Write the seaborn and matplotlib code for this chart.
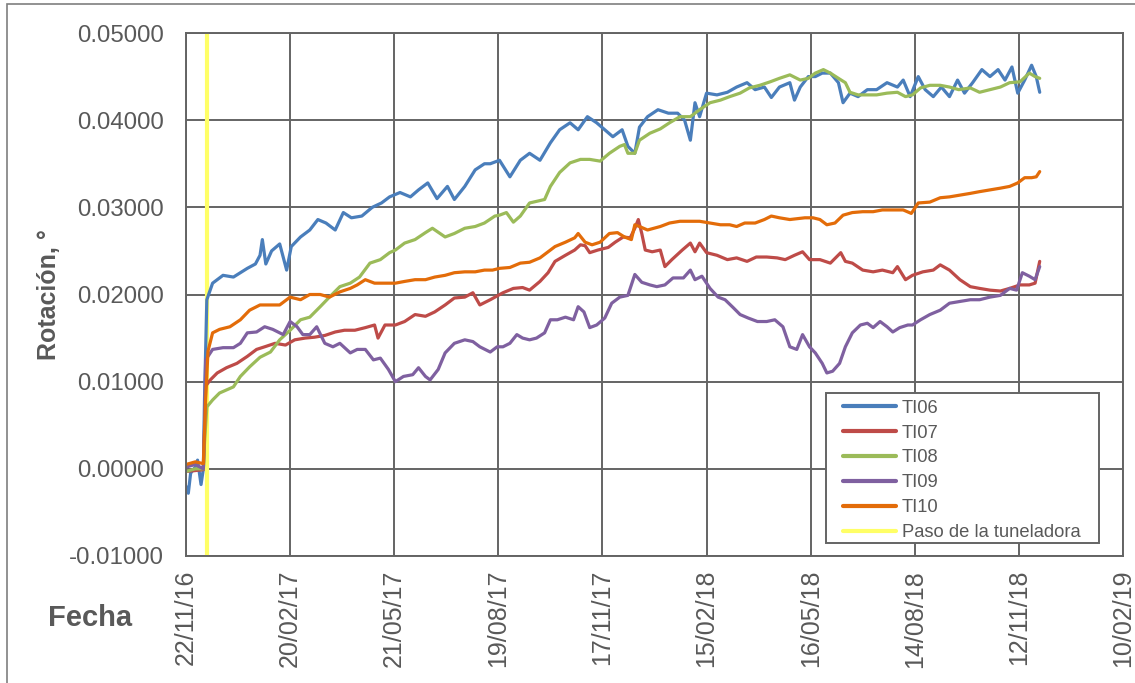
import numpy as np
import pandas as pd
import matplotlib
matplotlib.use("Agg")
import matplotlib.pyplot as plt
from matplotlib.patches import Rectangle
from matplotlib.lines import Line2D
import seaborn as sns

# ---------------- data ----------------
fecha_inicio = "2016-11-22"
fecha_paso = "2016-12-10"          # Paso de la tuneladora
series = ["TI06", "TI07", "TI08", "TI09", "TI10"]
colores = ["#4A7EBB", "#BE4B48", "#9BBB59", "#7F60A0", "#E36C09"]

xtick_fechas = ["2016-11-22", "2017-02-20", "2017-05-21", "2017-08-19", "2017-11-17",
                "2018-02-15", "2018-05-16", "2018-08-14", "2018-11-12", "2019-02-10"]
xtick_labels = ["22/11/16", "20/02/17", "21/05/17", "19/08/17", "17/11/17",
                "15/02/18", "16/05/18", "14/08/18", "12/11/18", "10/02/19"]
ytick_vals = [-0.01, 0.0, 0.01, 0.02, 0.03, 0.04, 0.05]
ytick_labels = ["-0.01000", "0.00000", "0.01000", "0.02000", "0.03000", "0.04000", "0.05000"]

# days since fecha_inicio
dias_TI06 = [0,2,4,8,10,13,15,16,18,23,32,41,53,60,64,66,69,74,81,87,91,99,107,114,121,129,136,143,152,161,
             169,176,185,194,201,209,217,226,232,241,250,258,263,271,280,289,297,306,315,323,332,339,347,355,362,
             369,377,382,388,392,399,408,417,425,431,436,440,444,450,459,468,476,485,492,500,506,513,522,526,531,
             538,544,550,557,564,568,574,581,589,597,606,615,620,626,633,639,646,653,660,667,673,680,688,695,702,
             708,714,719,725,731,735,738]
TI06 = [-0.0020,-0.0028,-0.0005,0.0002,0.0010,-0.0018,0.0000,0.0080,0.0194,0.0213,0.0222,0.0220,0.0230,0.0235,
        0.0245,0.0263,0.0235,0.0250,0.0258,0.0228,0.0255,0.0266,0.0274,0.0286,0.0282,0.0274,0.0294,0.0288,0.0290,
        0.0300,0.0305,0.0312,0.0317,0.0312,0.0320,0.0328,0.0310,0.0324,0.0309,0.0324,0.0343,0.0350,0.0350,0.0354,
        0.0335,0.0354,0.0362,0.0354,0.0374,0.0389,0.0397,0.0389,0.0404,0.0397,0.0389,0.0381,0.0389,0.0370,0.0362,
        0.0392,0.0404,0.0412,0.0408,0.0408,0.0400,0.0377,0.0420,0.0404,0.0431,0.0429,0.0432,0.0438,0.0443,0.0435,
        0.0438,0.0426,0.0438,0.0443,0.0423,0.0438,0.0450,0.0450,0.0454,0.0454,0.0443,0.0420,0.0431,0.0427,0.0435,
        0.0435,0.0443,0.0438,0.0446,0.0427,0.0450,0.0435,0.0427,0.0438,0.0427,0.0446,0.0431,0.0443,0.0458,0.0450,
        0.0458,0.0446,0.0461,0.0431,0.0446,0.0463,0.0450,0.0432]

dias_TI07 = [0,8,15,16,17,21,27,35,44,53,61,68,77,86,94,103,111,120,129,137,146,155,163,166,172,181,189,198,207,
             215,224,232,241,248,254,263,274,283,291,297,306,313,319,328,336,341,345,349,356,365,371,378,384,388,
             391,394,397,403,410,414,420,429,436,440,444,450,459,468,476,485,493,502,511,518,526,533,539,548,557,
             566,570,576,585,594,602,611,615,622,628,637,646,652,660,669,678,686,695,704,712,721,729,734,738]
TI07 = [-0.0003,-0.0002,-0.0001,0.0040,0.0095,0.0102,0.0110,0.0116,0.0121,0.0129,0.0137,0.0140,0.0144,0.0142,
        0.0148,0.0150,0.0151,0.0153,0.0157,0.0159,0.0159,0.0162,0.0165,0.0150,0.0165,0.0165,0.0169,0.0177,0.0175,
        0.0180,0.0188,0.0196,0.0197,0.0202,0.0188,0.0194,0.0202,0.0207,0.0208,0.0205,0.0215,0.0225,0.0238,0.0245,
        0.0251,0.0257,0.0256,0.0248,0.0251,0.0254,0.0260,0.0266,0.0265,0.0276,0.0286,0.0270,0.0251,0.0249,0.0251,
        0.0232,0.0240,0.0251,0.0259,0.0249,0.0259,0.0248,0.0245,0.0240,0.0242,0.0238,0.0243,0.0243,0.0242,0.0240,
        0.0245,0.0249,0.0240,0.0240,0.0236,0.0248,0.0238,0.0236,0.0228,0.0226,0.0228,0.0225,0.0232,0.0217,0.0222,
        0.0226,0.0228,0.0234,0.0228,0.0217,0.0209,0.0207,0.0205,0.0204,0.0207,0.0211,0.0211,0.0213,0.0238]

dias_TI08 = [0,8,15,16,18,23,29,41,47,55,64,73,81,90,99,107,116,124,133,142,150,159,168,176,181,189,198,207,213,
             224,232,241,250,258,267,271,277,283,289,297,310,315,323,332,341,349,358,366,375,379,382,388,392,401,
             410,418,427,436,444,453,462,470,479,487,496,505,513,522,531,538,544,551,557,564,570,574,581,597,606,
             615,622,628,635,643,652,660,668,678,686,695,704,712,721,729,734,738]
TI08 = [-0.0003,0.0000,0.0000,0.0030,0.0071,0.0079,0.0087,0.0094,0.0106,0.0117,0.0128,0.0134,0.0148,0.0159,
        0.0171,0.0174,0.0186,0.0197,0.0209,0.0213,0.0220,0.0236,0.0240,0.0248,0.0251,0.0259,0.0263,0.0271,0.0276,
        0.0266,0.0270,0.0276,0.0278,0.0282,0.0290,0.0291,0.0294,0.0283,0.0290,0.0305,0.0309,0.0324,0.0340,0.0351,
        0.0355,0.0355,0.0353,0.0362,0.0370,0.0372,0.0362,0.0362,0.0377,0.0385,0.0390,0.0397,0.0404,0.0404,0.0412,
        0.0420,0.0423,0.0427,0.0431,0.0437,0.0440,0.0444,0.0448,0.0452,0.0446,0.0448,0.0454,0.0458,0.0454,0.0448,
        0.0443,0.0432,0.0429,0.0429,0.0431,0.0432,0.0427,0.0429,0.0437,0.0440,0.0440,0.0438,0.0435,0.0437,0.0432,
        0.0435,0.0438,0.0443,0.0444,0.0454,0.0450,0.0448]

dias_TI09 = [0,8,15,16,17,23,32,41,47,53,61,68,75,84,90,96,101,107,113,120,127,133,142,148,155,162,168,175,181,
             188,196,201,207,211,218,224,232,241,248,254,263,269,274,280,286,291,297,303,310,315,321,328,335,339,
             344,349,355,362,368,375,382,388,394,401,407,414,421,430,436,440,446,453,460,466,473,479,486,494,502,
             509,516,522,528,533,539,544,550,554,559,565,570,576,583,589,594,600,606,611,617,624,628,635,643,652,
             660,669,678,686,695,704,712,718,723,729,734,738]
TI09 = [0.0002,0.0005,0.0000,0.0050,0.0125,0.0137,0.0139,0.0139,0.0144,0.0156,0.0157,0.0163,0.0160,0.0154,
        0.0169,0.0163,0.0154,0.0154,0.0163,0.0144,0.0140,0.0144,0.0133,0.0137,0.0137,0.0125,0.0127,0.0114,0.0100,
        0.0106,0.0108,0.0116,0.0106,0.0102,0.0114,0.0133,0.0144,0.0148,0.0146,0.0140,0.0134,0.0140,0.0140,0.0144,
        0.0154,0.0150,0.0148,0.0150,0.0156,0.0171,0.0171,0.0174,0.0171,0.0186,0.0180,0.0162,0.0165,0.0173,0.0190,
        0.0197,0.0199,0.0223,0.0214,0.0211,0.0209,0.0211,0.0219,0.0219,0.0228,0.0217,0.0221,0.0207,0.0197,0.0194,
        0.0185,0.0177,0.0173,0.0169,0.0169,0.0171,0.0163,0.0140,0.0137,0.0154,0.0140,0.0133,0.0121,0.0110,0.0112,
        0.0121,0.0140,0.0156,0.0165,0.0167,0.0162,0.0169,0.0163,0.0157,0.0162,0.0165,0.0165,0.0171,0.0177,0.0182,
        0.0190,0.0192,0.0194,0.0194,0.0197,0.0199,0.0207,0.0205,0.0225,0.0221,0.0217,0.0232]

dias_TI10 = [0,8,15,17,19,23,29,38,47,55,64,73,81,90,99,107,116,124,133,142,148,155,163,172,181,189,198,207,215,
             224,232,241,250,258,265,271,280,289,297,306,312,319,328,336,339,345,351,358,366,373,379,385,388,392,
             399,410,418,427,436,444,453,462,470,476,483,492,500,506,513,522,535,542,548,554,561,568,576,585,594,
             602,611,620,627,633,643,652,660,669,678,686,695,704,712,719,725,731,735,738]
TI10 = [0.0005,0.0008,0.0006,0.0080,0.0135,0.0156,0.0160,0.0163,0.0171,0.0182,0.0188,0.0188,0.0188,0.0197,
        0.0194,0.0200,0.0200,0.0197,0.0203,0.0207,0.0211,0.0217,0.0213,0.0213,0.0213,0.0215,0.0217,0.0217,0.0220,
        0.0222,0.0225,0.0226,0.0226,0.0228,0.0228,0.0230,0.0231,0.0236,0.0237,0.0242,0.0248,0.0255,0.0260,0.0265,
        0.0270,0.0260,0.0257,0.0260,0.0270,0.0271,0.0266,0.0263,0.0280,0.0278,0.0274,0.0278,0.0282,0.0284,0.0284,
        0.0284,0.0282,0.0280,0.0280,0.0278,0.0282,0.0282,0.0286,0.0290,0.0288,0.0286,0.0288,0.0288,0.0286,0.0280,
        0.0282,0.0291,0.0294,0.0295,0.0295,0.0297,0.0297,0.0297,0.0293,0.0305,0.0306,0.0311,0.0312,0.0314,0.0316,
        0.0318,0.0320,0.0322,0.0324,0.0328,0.0334,0.0334,0.0335,0.0341]

dias = {"TI06": dias_TI06, "TI07": dias_TI07, "TI08": dias_TI08, "TI09": dias_TI09, "TI10": dias_TI10}
valores = {"TI06": TI06, "TI07": TI07, "TI08": TI08, "TI09": TI09, "TI10": TI10}

frames = []
t0 = pd.Timestamp(fecha_inicio)
for s in series:
    frames.append(pd.DataFrame({
        "Fecha": t0 + pd.to_timedelta(dias[s], unit="D"),
        "Rotacion": valores[s],
        "Serie": s,
    }))
df = pd.concat(frames, ignore_index=True)

# ---------------- style ----------------
sns.set_theme(style="white")
plt.rcParams["font.family"] = ["Liberation Sans", "DejaVu Sans"]
txt = "#595959"
grid_c = "#646464"

fig = plt.figure(figsize=(11.35, 6.83), dpi=100)
ax = fig.add_axes([186/1135, 1-556/683, (1123-186)/1135, (556-33)/683])

ax.axvline(pd.Timestamp(fecha_paso), color="#FFFF66", lw=3.0, zorder=1.5,
           label="Paso de la tuneladora")

for s, c in zip(series, colores):
    sns.lineplot(data=df[df["Serie"] == s], x="Fecha", y="Rotacion", color=c, lw=2.3,
                 ax=ax, estimator=None, sort=False, label=s, zorder=2)

ax.set_xlim(pd.Timestamp(xtick_fechas[0]), pd.Timestamp(xtick_fechas[-1]))
ax.set_ylim(ytick_vals[0], ytick_vals[-1])
ax.set_xticks(pd.to_datetime(xtick_fechas))
ax.set_xticklabels(xtick_labels, rotation=90, fontsize=18, color=txt)
ax.set_yticks(ytick_vals)
ax.set_yticklabels(ytick_labels, fontsize=17.3, color=txt)
ax.tick_params(axis="x", length=0, pad=10)
ax.tick_params(axis="y", length=0, pad=16)

ax.grid(True, color=grid_c, lw=1.4)
ax.set_axisbelow(True)
for sp in ax.spines.values():
    sp.set_color(grid_c)
    sp.set_linewidth(1.4)

ax.set_xlabel("")
ax.set_ylabel("Rotación, °", fontsize=18, fontweight="bold", color=txt)
ax.yaxis.set_label_coords(-0.1334, 0.5)
fig.text(90/1135, 1-618/683, "Fecha", fontsize=21, fontweight="bold", color=txt,
         ha="center", va="center")

# legend (frame drawn as a separate box to match the wide Excel legend)
ax.add_patch(Rectangle((0.683, 0.025), 0.291, 0.287, transform=ax.transAxes,
                       facecolor="white", edgecolor=grid_c, lw=1.4, zorder=4))
handles = [Line2D([0], [0], color=c, lw=3) for c in colores] + \
          [Line2D([0], [0], color="#FFFF66", lw=3)]
labels = series + ["Paso de la tuneladora"]
leg = ax.legend(handles, labels, loc="upper left", bbox_to_anchor=(0.701, 0.299),
                fontsize=13.2, frameon=False, handlelength=2.9, handletextpad=0.3,
                labelspacing=0.43, borderpad=0, borderaxespad=0)
leg.set_zorder(5)
for t in leg.get_texts():
    t.set_color(txt)

# outer chart frame
fig.patches.append(Rectangle((7/1135, -0.05), 1.2, 1.05 - 4/683, transform=fig.transFigure,
                             fill=False, edgecolor="#7f7f7f", lw=1.2))

fig.savefig("out.png", dpi=100)
